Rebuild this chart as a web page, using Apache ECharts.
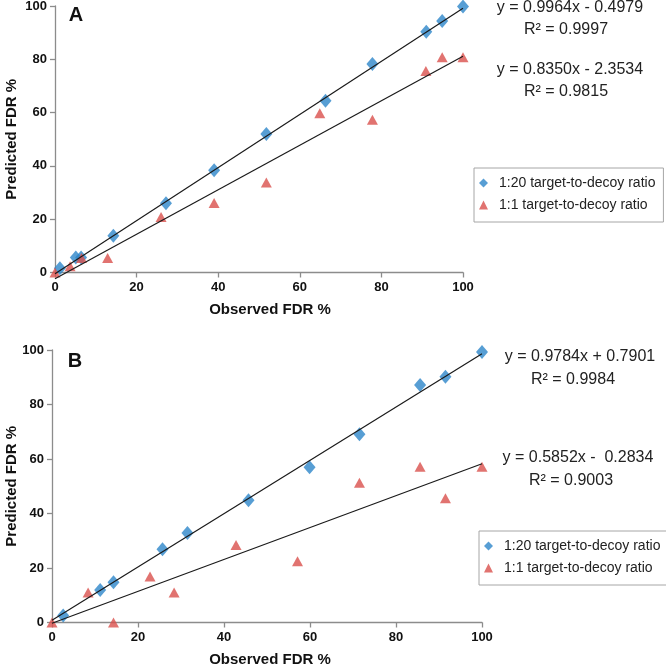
<!DOCTYPE html>
<html><head><meta charset="utf-8">
<script src="https://cdn.jsdelivr.net/npm/echarts@6/dist/echarts.min.js"></script>
<style>html,body{margin:0;padding:0;background:#fff}#c{width:666px;height:667px}</style>
</head><body><div id="c"></div>
<script>
// ---- data ----
const nameHigh = '1:20 target-to-decoy ratio';
const nameLow = '1:1 target-to-decoy ratio';
const xAxisTitle = 'Observed FDR %';
const yAxisTitle = 'Predicted FDR %';
const panelLetters = ['A', 'B'];

// Panel A: [observed, predicted]
const aHigh = [[1.2,1.6],[5.1,5.6],[6.4,5.6],[14.3,13.8],[27.2,26.0],[39.0,38.4],[51.8,52.0],[66.3,64.4],[77.8,78.2],[91.0,90.3],[94.9,94.4],[100,99.8]];
const aLow  = [[0,0],[3.7,2.3],[6.5,5.4],[12.9,5.4],[26.0,20.8],[39.0,26.1],[51.8,33.8],[64.9,59.8],[77.8,57.3],[90.9,75.6],[94.9,80.8],[100,80.8]];
// Panel B
const bHigh = [[2.6,2.6],[11.2,11.9],[14.3,14.8],[25.7,26.9],[31.5,32.8],[45.7,44.9],[59.9,57.0],[71.5,69.1],[85.6,87.2],[91.5,90.2],[100,99.3]];
const bLow  = [[0,0],[8.4,11.0],[14.3,0],[22.8,16.9],[28.4,11.0],[42.8,28.4],[57.1,22.5],[71.5,51.3],[85.6,57.2],[91.5,45.6],[100,57.2]];

// Linear trend lines (end points)
const aHighTrend = [[0,-0.50],[100,99.14]];
const aLowTrend  = [[0,-2.35],[100,81.15]];
const bHighTrend = [[0,0.79],[100,98.63]];
const bLowTrend  = [[0,-0.28],[100,58.24]];

// Equation labels
const aEquations = ['y = 0.9964x - 0.4979', 'R\u00B2 = 0.9997', 'y = 0.8350x - 2.3534', 'R\u00B2 = 0.9815'];
const bEquations = ['y = 0.9784x + 0.7901', 'R\u00B2 = 0.9984', 'y = 0.5852x -  0.2834', 'R\u00B2 = 0.9003'];

// ---- styling ----
const BLUE = '#2d86c9';
const RED = '#d9504c';
const AXIS = '#8c8c8c';
const FONT = "'Liberation Sans', Arial, sans-serif";

function xAx(g, nameShift){
  return {
    type:'value', gridIndex:g, min:0, max:100, interval:20,
    name:xAxisTitle, nameLocation:'middle', nameGap:30, nameMoveOverlap:false,
    nameTextStyle:{fontFamily:FONT, fontWeight:'bold', fontSize:15, color:'#111', padding:[0,0,0,nameShift]},
    axisLine:{lineStyle:{color:AXIS, width:1.3}},
    axisTick:{show:true, length:5, lineStyle:{color:AXIS, width:1.3}},
    splitLine:{show:false},
    axisLabel:{fontFamily:FONT, fontWeight:'bold', fontSize:13, color:'#111', margin:8}
  };
}
function yAx(g, gap){
  return {
    type:'value', gridIndex:g, min:0, max:100, interval:20,
    name:yAxisTitle, nameLocation:'middle', nameGap:gap, nameMoveOverlap:false,
    nameTextStyle:{fontFamily:FONT, fontWeight:'bold', fontSize:15, color:'#111'},
    axisLine:{show:true, lineStyle:{color:AXIS, width:1.3}},
    axisTick:{show:true, length:5, lineStyle:{color:AXIS, width:1.3}},
    splitLine:{show:false},
    axisLabel:{fontFamily:FONT, fontWeight:'bold', fontSize:13, color:'#111', margin:8}
  };
}
function scatter(name, data, g, sym, size, color){
  return {type:'scatter', name:name, xAxisIndex:g, yAxisIndex:g, data:data,
    symbol:sym, symbolSize:size, itemStyle:{color:color}, z:2};
}
function trend(data, g){
  return {type:'line', xAxisIndex:g, yAxisIndex:g, data:data, symbol:'none', clip:false,
    lineStyle:{color:'#1a1a1a', width:1.2}, z:3, silent:true};
}
function legend(left, top){
  return {
    data:[{name:nameHigh, icon:'diamond'},{name:nameLow, icon:'triangle'}],
    orient:'vertical', left:left, top:top,
    itemWidth:9, itemHeight:9, itemGap:8,
    padding:[8,8,10,5],
    borderColor:'#a6a6a6', borderWidth:1,
    textStyle:{fontFamily:FONT, fontSize:14, color:'#222', lineHeight:14, padding:[0,0,0,6]}
  };
}
function eq(txt, cx, cy){
  return {type:'text', x:cx, y:cy, style:{text:txt, fill:'#222',
    font:"16px 'Liberation Sans', Arial, sans-serif", align:'center', verticalAlign:'middle'}};
}
function letter(txt, cx, cy){
  return {type:'text', x:cx, y:cy, style:{text:txt, fill:'#111',
    font:"bold 20px 'Liberation Sans', Arial, sans-serif", align:'center', verticalAlign:'middle'}};
}

const chart = echarts.init(document.getElementById('c'));
chart.setOption({
  animation:false,
  grid:[
    {left:55, top:6, width:408, height:266.5, outerBoundsMode:'none'},
    {left:52, top:350, width:430, height:272.5, outerBoundsMode:'none'}
  ],
  xAxis:[xAx(0,22), xAx(1,6)],
  yAxis:[yAx(0,36), yAx(1,33)],
  legend:[legend(474,168), legend(479,531)],
  series:[
    scatter(nameHigh, aHigh, 0, 'diamond', [12,14], BLUE),
    scatter(nameLow, aLow, 0, 'triangle', [11,10], RED),
    trend(aHighTrend, 0), trend(aLowTrend, 0),
    scatter(nameHigh, bHigh, 1, 'diamond', [12,14], BLUE),
    scatter(nameLow, bLow, 1, 'triangle', [11,10], RED),
    trend(bHighTrend, 1), trend(bLowTrend, 1)
  ],
  graphic:[
    letter(panelLetters[0], 76, 15),
    letter(panelLetters[1], 75, 361),
    eq(aEquations[0], 570, 8), eq(aEquations[1], 566, 30),
    eq(aEquations[2], 570, 70), eq(aEquations[3], 566, 92),
    eq(bEquations[0], 580, 357), eq(bEquations[1], 573, 380),
    eq(bEquations[2], 578, 458), eq(bEquations[3], 571, 481)
  ]
});
</script>
</body></html>
